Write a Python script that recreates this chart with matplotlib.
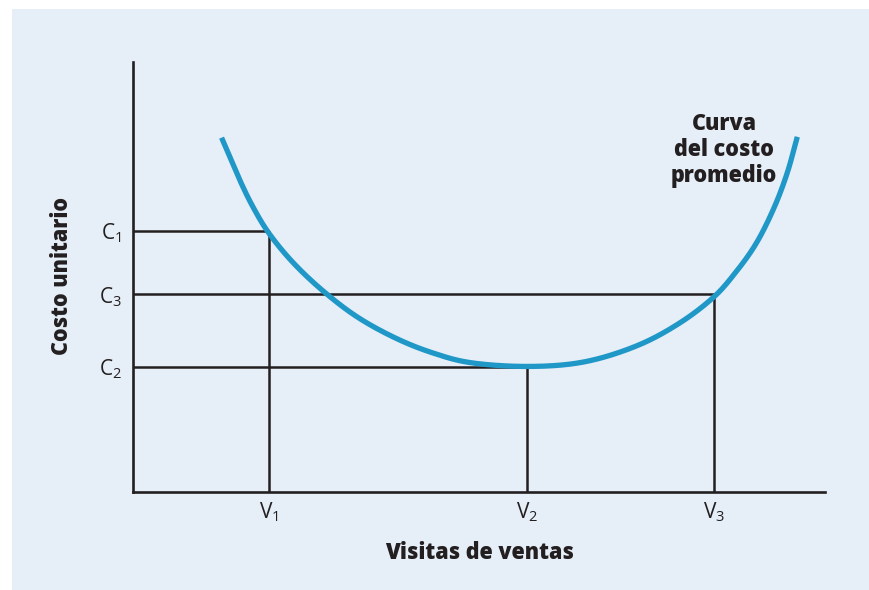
import numpy as np
import matplotlib
matplotlib.use("Agg")
import matplotlib.pyplot as plt
from matplotlib.patches import Rectangle

plt.rcParams['font.family'] = ['Open Sans', 'DejaVu Sans']
plt.rcParams['mathtext.fontset'] = 'custom'
plt.rcParams['mathtext.rm'] = 'Open Sans'
plt.rcParams['mathtext.it'] = 'Open Sans'

# Average cost curve
curve_x = [12.8, 14.0, 15.5, 17.2, 19.5, 23.1, 27.8, 32.8, 38.6, 43.4, 48.3, 57.1,
           65.0, 72.8, 79.0, 84.1, 87.0, 89.9, 92.5, 94.5, 96.0]
curve_y = [82.4, 77.9, 72.3, 66.7, 60.5, 53.4, 46.3, 40.3, 35.3, 32.3, 30.2, 29.2,
           30.2, 34.0, 39.3, 45.6, 50.9, 57.4, 65.6, 74.0, 82.6]

# Reference levels
cost_labels = [r'$\mathrm{C}_1$', r'$\mathrm{C}_3$', r'$\mathrm{C}_2$']
cost_levels = [60.8, 46.0, 29.1]
visit_labels = [r'$\mathrm{V}_1$', r'$\mathrm{V}_3$', r'$\mathrm{V}_2$']
visit_levels = [19.6, 84.0, 56.9]

xlabel = 'Visitas de ventas'
ylabel = 'Costo unitario'
curve_label = 'Curva\ndel costo\npromedio'

BLUE = '#1f97c7'
INK = '#231f20'
BG = '#e6eef7'


def catmull_rom(xs, ys, n=40, alpha=0.5):
    pts = np.column_stack([xs, ys]).astype(float)
    pts = np.vstack([2 * pts[0] - pts[1], pts, 2 * pts[-1] - pts[-2]])
    out = []
    for i in range(1, len(pts) - 2):
        p0, p1, p2, p3 = pts[i - 1], pts[i], pts[i + 1], pts[i + 2]
        t0 = 0.0
        t1 = t0 + np.linalg.norm(p1 - p0) ** alpha
        t2 = t1 + np.linalg.norm(p2 - p1) ** alpha
        t3 = t2 + np.linalg.norm(p3 - p2) ** alpha
        t = np.linspace(t1, t2, n, endpoint=False)[:, None]
        a1 = (t1 - t) / (t1 - t0) * p0 + (t - t0) / (t1 - t0) * p1
        a2 = (t2 - t) / (t2 - t1) * p1 + (t - t1) / (t2 - t1) * p2
        a3 = (t3 - t) / (t3 - t2) * p2 + (t - t2) / (t3 - t2) * p3
        b1 = (t2 - t) / (t2 - t0) * a1 + (t - t0) / (t2 - t0) * a2
        b2 = (t3 - t) / (t3 - t1) * a2 + (t - t1) / (t3 - t1) * a3
        c = (t2 - t) / (t2 - t1) * b1 + (t - t1) / (t2 - t1) * b2
        out.append(c)
    out.append(pts[-2][None, :])
    out = np.vstack(out)
    return out[:, 0], out[:, 1]


fig = plt.figure(figsize=(8.7, 5.9), dpi=100)
fig.patch.set_facecolor('white')
fig.patches.append(Rectangle((12 / 870, -0.1), 1.2, 1.1 - 9 / 590, transform=fig.transFigure,
                             facecolor=BG, edgecolor='none', zorder=-10))

ax = fig.add_axes([133 / 870, 98 / 590, 692 / 870, 430 / 590])
ax.set_facecolor('none')
ax.set_xlim(0, 100)
ax.set_ylim(0, 100)

for s in ['top', 'right']:
    ax.spines[s].set_visible(False)
for s in ['left', 'bottom']:
    ax.spines[s].set_linewidth(1.9)
    ax.spines[s].set_color(INK)

# reference lines
for c, v in zip(cost_levels, visit_levels):
    ax.plot([0, v], [c, c], color=INK, lw=1.8, solid_capstyle='butt', zorder=2)
    ax.plot([v, v], [0, c], color=INK, lw=1.8, solid_capstyle='butt', zorder=2)

sx, sy = catmull_rom(curve_x, curve_y)
ax.plot(sx, sy, color=BLUE, lw=3.8, solid_capstyle='butt', zorder=3)

ax.set_yticks(cost_levels)
ax.set_yticklabels(cost_labels, fontsize=15, color=INK)
ax.set_xticks(visit_levels)
ax.set_xticklabels(visit_labels, fontsize=15, color=INK)
ax.tick_params(axis='both', length=0)
ax.tick_params(axis='y', pad=8)
ax.tick_params(axis='x', pad=6)

fig.text(480 / 870, 1 - 553 / 590, xlabel, ha='center', va='center',
         fontsize=15.5, fontweight=800, color=INK)
fig.text(62 / 870, 1 - 276 / 590, ylabel, ha='center', va='center', rotation=90,
         fontsize=15.5, fontweight=800, color=INK)
fig.text(724 / 870, 1 - 150 / 590, curve_label, ha='center', va='center',
         fontsize=15.5, fontweight=800, color=INK, linespacing=1.12)

fig.savefig('out.png', dpi=100)
